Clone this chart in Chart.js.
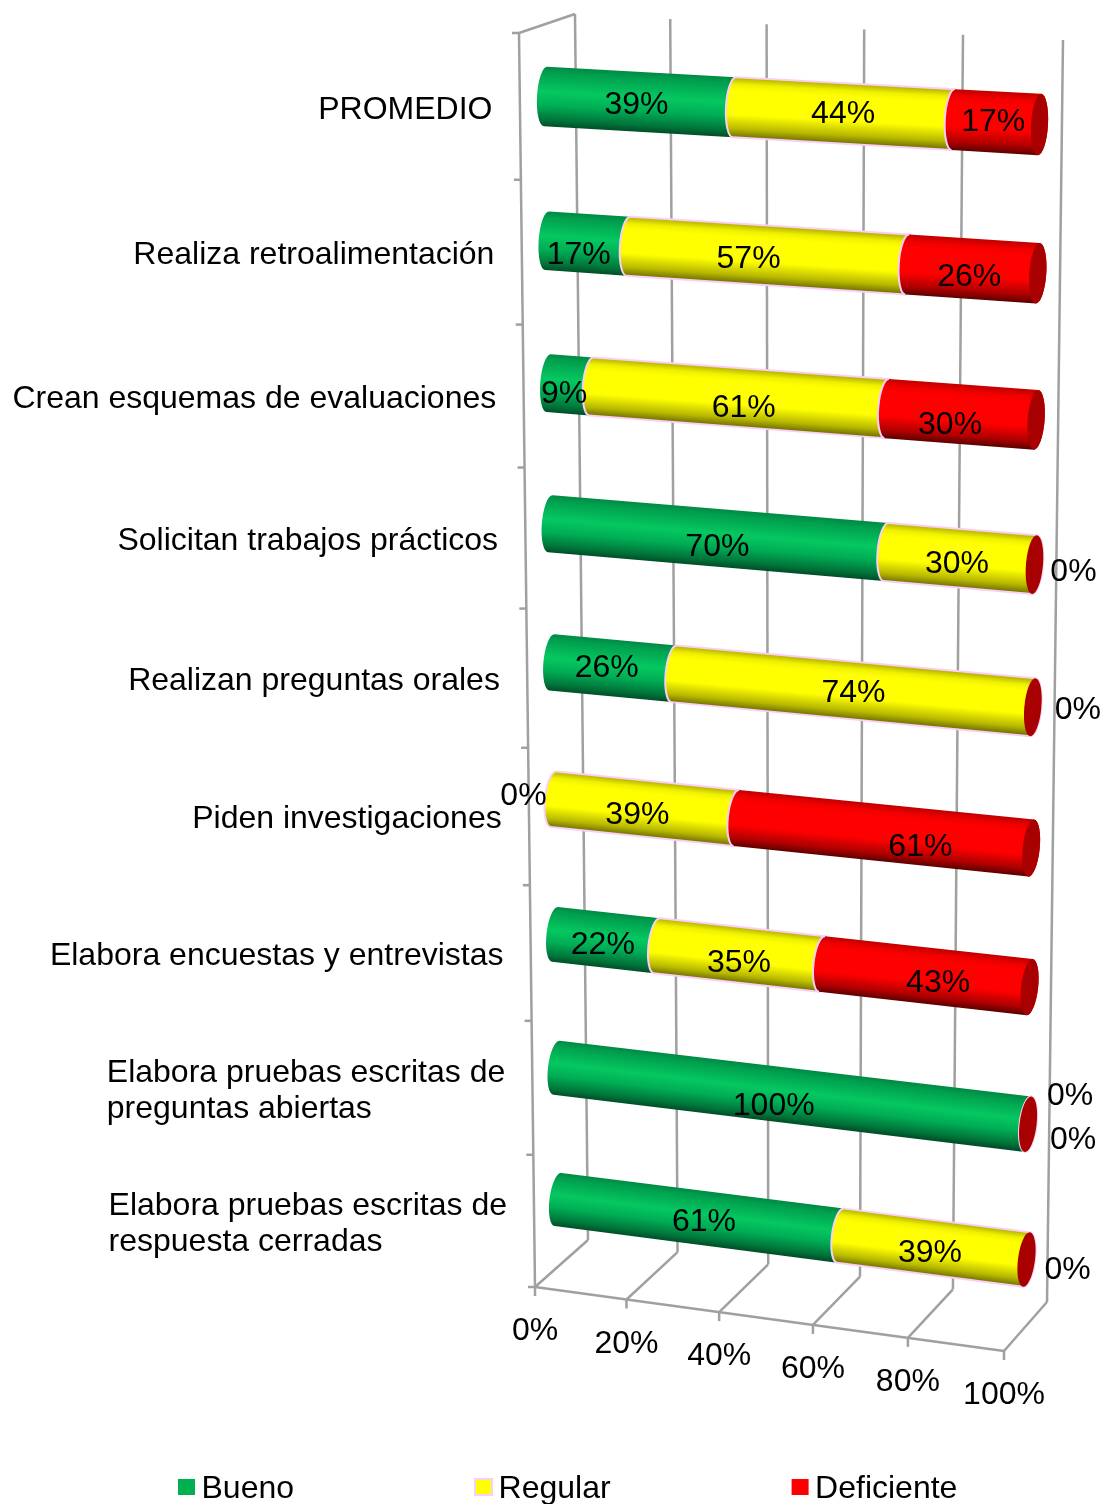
<!DOCTYPE html>
<html>
<head>
<meta charset="utf-8">
<style>html,body{margin:0;padding:0;background:#fff}canvas{display:block}</style>
<script src="https://cdn.jsdelivr.net/npm/chart.js@4/dist/chart.umd.js"></script>
</head>
<body>
<canvas id="c" width="1102" height="1504"></canvas>
<script>
const categories = ["PROMEDIO","Realiza retroalimentación","Crean esquemas de evaluaciones","Solicitan trabajos prácticos","Realizan preguntas orales","Piden investigaciones","Elabora encuestas y entrevistas",["Elabora pruebas escritas de","preguntas abiertas"],["Elabora pruebas escritas de","respuesta cerradas"]];
const bueno = [39,17,9,70,26,0,22,100,61];
const regular = [44,57,61,30,74,39,35,0,39];
const deficiente = [17,26,30,0,0,61,43,0,0];
const xTicks = [0,20,40,60,80,100];

// label nudges relative to each segment's projected centre
const nudgeBueno = [[-3,1],[-9,9],[-6,7],[1,7],[-6,-2],[-30,-6],[-3,3],[-15,8],[6,2]];
const nudgeRegular = [[0,-2],[-18,1],[6,8],[-3,3],[2,0],[-7,4],[0,6],[42,-30],[-3,3]];
const nudgeDeficiente = [[-3,-2],[-3,6],[-11,8],[39,5],[45,0],[38,12],[13,5],[45,14],[41,8]];

const FONT = '32px "Liberation Sans"';
const TEXT_DY = 2.5;
const GRID = '#A0A0A0';
const PINK = '#FBCFF5';
const CAP = '#A80000';
const seriesColors=['#00B050','#FFFF00','#FF0000'];
const shades = {
  '#00B050':[[0,'#008A44'],[.1,'#009F4E'],[.42,'#05C860'],[.65,'#00AD55'],[.88,'#00773B'],[1,'#004F28']],
  '#FFFF00':[[0,'#B0B000'],[.12,'#F0F000'],[.22,'#FFFF00'],[.62,'#FFFF00'],[.86,'#B8B800'],[1,'#707000']],
  '#FF0000':[[0,'#C00000'],[.12,'#F00000'],[.22,'#FF0000'],[.62,'#FF0000'],[.86,'#B00000'],[1,'#600000']]
};
// perspective of the bar plane: the four ends of the first/last bar centre lines
const quad = {p00:[545.5,96.5],p10:[1039.5,124.5],p11:[1026.5,1259.5],p01:[558,1199.5]};
const box = {f0:[535,1287],f1:[1004,1351],b0:[588,1240],b1:[1047,1302],t0:[575,14],t1:[1063,40],a0:[519,33]};
const capDepth = 8.5;

function makeHomography(q){
  const [x0,y0]=q.p00,[x1,y1]=q.p10,[x2,y2]=q.p11,[x3,y3]=q.p01;
  const dx1=x1-x2,dx2=x3-x2,sx=x0-x1+x2-x3,dy1=y1-y2,dy2=y3-y2,sy=y0-y1+y2-y3;
  const det=dx1*dy2-dx2*dy1;
  const g=(sx*dy2-dx2*sy)/det,h=(dx1*sy-sx*dy1)/det;
  const a=x1-x0+g*x1,b=x3-x0+h*x3,d=y1-y0+g*y1,e=y3-y0+h*y3;
  return (s,t)=>{const w=g*s+h*t+1;return [(a*s+b*t+x0)/w,(d*s+e*t+y0)/w];};
}
const H = makeHomography(quad);
let chartRef = null;
function toPlane(px,py){
  const xs=chartRef.scales.x, ys=chartRef.scales.y;
  const y0=ys.getPixelForValue(0), y8=ys.getPixelForValue(categories.length-1);
  return [(px-xs.left)/xs.width,(py-y0)/(y8-y0)];
}
function project(px,py){const [s,t]=toPlane(px,py);return H(s,t);}
const lerp=(a,b,f)=>[a[0]+(b[0]-a[0])*f,a[1]+(b[1]-a[1])*f];
function line(ctx,p,q){ctx.beginPath();ctx.moveTo(p[0],p[1]);ctx.lineTo(q[0],q[1]);ctx.stroke();}

// Cylinder rendering of every bar rectangle the library computes
Chart.BarElement.prototype.draw = function(ctx){
  const {x,y,base,height}=this.getProps(['x','y','base','height']);
  const bg=this.options.backgroundColor, bw=this.options.borderWidth, bc=this.options.borderColor;
  const last = bg===seriesColors[seriesColors.length-1];
  const m0=project(base,y), m1=project(x,y);
  const hLeft=Math.hypot(...[0,1].map(k=>project(base,y-height/2)[k]-project(base,y+height/2)[k]))/2;
  const hRight=Math.hypot(...[0,1].map(k=>project(x,y-height/2)[k]-project(x,y+height/2)[k]))/2;
  const far=project(chartRef.scales.x.right,y), near=project(chartRef.scales.x.left,y);
  const ang=Math.atan2(far[1]-near[1],far[0]-near[0]);
  const rot=ang-Math.PI/2;
  const ux=Math.cos(rot), uy=Math.sin(rot);
  const empty=Math.abs(x-base)<0.5;
  ctx.save();
  ctx.lineWidth=2;
  if(!empty){
    const tl=[m0[0]+ux*hLeft,m0[1]+uy*hLeft], bl=[m0[0]-ux*hLeft,m0[1]-uy*hLeft];
    const grad=ctx.createLinearGradient(tl[0],tl[1],bl[0],bl[1]);
    shades[bg].forEach(s=>grad.addColorStop(s[0],s[1]));
    ctx.beginPath();
    ctx.ellipse(m1[0],m1[1],hRight,capDepth,rot,0,Math.PI,false);
    ctx.ellipse(m0[0],m0[1],hLeft,capDepth,rot,Math.PI,Math.PI*2,false);
    ctx.closePath();
    ctx.fillStyle=grad;ctx.fill();
    if(bw>0){ctx.strokeStyle=bc;ctx.stroke();}
    if(last){
      ctx.beginPath();
      ctx.ellipse(m0[0],m0[1],hLeft,capDepth,rot,Math.PI,Math.PI*2,false);
      ctx.strokeStyle=PINK;ctx.stroke();
    }
  } else if(bw>0){
    ctx.beginPath();
    ctx.ellipse(m1[0],m1[1],hRight,capDepth,rot,0,Math.PI*2);
    ctx.strokeStyle=bc;ctx.stroke();
  }
  if(last){
    ctx.beginPath();
    ctx.ellipse(m1[0],m1[1],hRight,capDepth,rot,0,Math.PI*2);
    ctx.fillStyle=CAP;ctx.fill();
  }
  ctx.restore();
};

const frame3d={
  id:'frame3d',
  beforeInit(chart){chartRef=chart;},
  beforeDatasetsDraw(chart){
    const ctx=chart.ctx, xs=chart.scales.x, ys=chart.scales.y, n=categories.length;
    ctx.save();
    ctx.strokeStyle=GRID;ctx.lineWidth=2.5;ctx.lineCap='butt';
    const midY=ys.getPixelForValue((n-1)/2);
    const xa=project(xs.left,midY)[0], xb=project(xs.right,midY)[0];
    const frac=v=>(project(xs.getPixelForValue(v),midY)[0]-xa)/(xb-xa);
    xTicks.forEach(v=>{
      const f=frac(v);
      const F=lerp(box.f0,box.f1,f),B=lerp(box.b0,box.b1,f),T=lerp(box.t0,box.t1,f);
      line(ctx,T,B);line(ctx,B,F);line(ctx,F,[F[0],F[1]+9]);
    });
    line(ctx,box.f0,box.f1);
    line(ctx,box.a0,box.f0);
    line(ctx,box.a0,box.t0);
    // category boundary ticks along the left edge
    const step=ys.getPixelForValue(1)-ys.getPixelForValue(0);
    const py=k=>project(xs.left,ys.getPixelForValue(0)+(k-0.5)*step)[1];
    const p0=py(0),pn=py(n);
    for(let k=0;k<=n;k++){
      const A=lerp(box.a0,box.f0,(py(k)-p0)/(pn-p0));
      line(ctx,[A[0]-7,A[1]],A);
    }
    ctx.restore();
  },
  // stacks are built first-to-last, and each later segment must overlap the previous one
  beforeDatasetDraw(){return false;},
  afterDatasetsDraw(chart){
    chart.data.datasets.forEach((ds,d)=>chart.getDatasetMeta(d).controller.draw());
    const ctx=chart.ctx, xs=chart.scales.x, ys=chart.scales.y, n=categories.length;
    ctx.save();
    ctx.font=FONT;ctx.fillStyle='#000';ctx.textBaseline='middle';
    // category labels
    categories.forEach((lab,i)=>{
      const p=project(xs.left,ys.getPixelForValue(i));
      const f=i/(n-1);
      const rx=p[0]-53+2*f, cy=p[1]+11+11*f+TEXT_DY;
      const lines=Array.isArray(lab)?lab:[lab];
      const w=Math.max(...lines.map(l=>ctx.measureText(l).width));
      ctx.textAlign='left';
      lines.forEach((l,k)=>ctx.fillText(l,rx-w,cy+(k-(lines.length-1)/2)*36.5));
    });
    // x tick labels
    ctx.textAlign='center';
    const midY=ys.getPixelForValue((n-1)/2);
    const xa=project(xs.left,midY)[0], xb=project(xs.right,midY)[0];
    xTicks.forEach(v=>{
      const f=(project(xs.getPixelForValue(v),midY)[0]-xa)/(xb-xa);
      const F=lerp(box.f0,box.f1,f);
      ctx.fillText(v+'%',F[0],F[1]+42+TEXT_DY);
    });
    // data labels
    const nudges=[nudgeBueno,nudgeRegular,nudgeDeficiente];
    chart.data.datasets.forEach((ds,d)=>{
      chart.getDatasetMeta(d).data.forEach((el,i)=>{
        const {x,y,base}=el.getProps(['x','y','base']);
        const c=project((x+base)/2,y);
        ctx.fillText(ds.data[i]+'%',c[0]+nudges[d][i][0],c[1]+nudges[d][i][1]+TEXT_DY);
      });
    });
    // legend
    let lx=178;
    const ly=1487;
    ctx.textAlign='left';
    chart.data.datasets.forEach(ds=>{
      ctx.fillStyle=ds.backgroundColor;
      ctx.fillRect(lx,ly-8,17,16);
      if(ds.borderWidth>0){ctx.strokeStyle=PINK;ctx.lineWidth=2;ctx.strokeRect(lx,ly-8,17,16);}
      ctx.fillStyle='#000';
      ctx.fillText(ds.label,lx+23.5,ly+TEXT_DY);
      lx+=23.5+ctx.measureText(ds.label).width+181;
    });
    ctx.restore();
  }
};

new Chart(document.getElementById('c'),{
  type:'bar',
  data:{labels:categories,datasets:[
    {label:'Bueno',data:bueno,backgroundColor:seriesColors[0],borderWidth:0,clip:false},
    {label:'Regular',data:regular,backgroundColor:seriesColors[1],borderColor:PINK,borderWidth:2,clip:false},
    {label:'Deficiente',data:deficiente,backgroundColor:seriesColors[2],borderWidth:0,clip:false}
  ]},
  options:{
    indexAxis:'y',responsive:false,animation:false,
    barPercentage:0.41,categoryPercentage:1,
    layout:{padding:0},
    scales:{
      x:{stacked:true,min:0,max:100,display:false,ticks:{stepSize:20}},
      y:{stacked:true,display:false}
    },
    plugins:{legend:{display:false},tooltip:{enabled:false}}
  },
  plugins:[frame3d]
});
</script>
</body>
</html>
